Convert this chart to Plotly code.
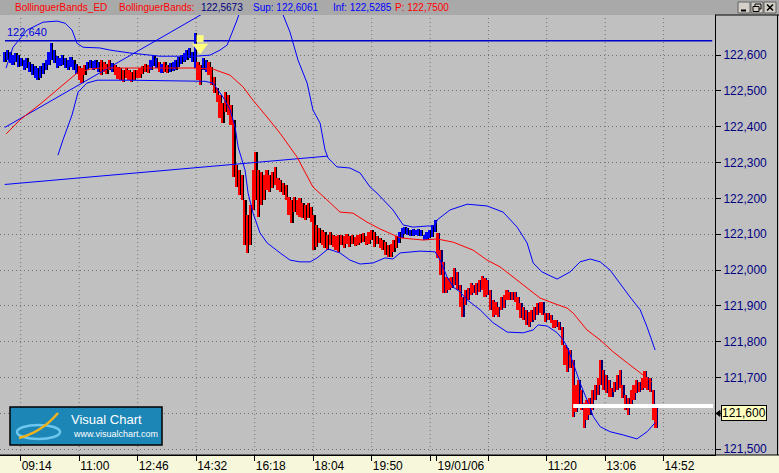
import plotly.graph_objects as go

# ---------------- data ----------------
# 5-minute bars (index = bar number); high / low prices
bar_high = [
    122.608, 122.614, 122.608, 122.600, 122.606, 122.600, 122.592, 122.586, 122.592, 122.580,
    122.575, 122.569, 122.564, 122.569, 122.578, 122.586, 122.608, 122.633, 122.614, 122.597,
    122.592, 122.600, 122.592, 122.586, 122.594, 122.586, 122.575, 122.569, 122.564, 122.572,
    122.580, 122.586, 122.583, 122.586, 122.580, 122.586, 122.580, 122.575, 122.586, 122.578,
    122.572, 122.567, 122.564, 122.558, 122.564, 122.558, 122.553, 122.558, 122.558, 122.564,
    122.569, 122.575, 122.572, 122.586, 122.597, 122.592, 122.580, 122.575, 122.580, 122.572,
    122.578, 122.580, 122.586, 122.594, 122.600, 122.606, 122.614, 122.620, 122.608, 122.661,
    122.580, 122.572, 122.592, 122.586, 122.580, 122.567, 122.539, 122.508, 122.488, 122.466,
    122.497, 122.488, 122.461, 122.419, 122.293, 122.279, 122.265, 122.196, 122.154, 122.182,
    122.279, 122.329, 122.279, 122.274, 122.265, 122.279, 122.265, 122.274, 122.288, 122.257,
    122.251, 122.243, 122.237, 122.204, 122.196, 122.204, 122.196, 122.201, 122.187, 122.182,
    122.187, 122.176, 122.154, 122.126, 122.117, 122.112, 122.106, 122.098, 122.106, 122.098,
    122.095, 122.098, 122.098, 122.095, 122.101, 122.095, 122.098, 122.092, 122.098, 122.101,
    122.104, 122.095, 122.106, 122.112, 122.106, 122.095, 122.090, 122.084, 122.078, 122.070,
    122.073, 122.084, 122.095, 122.106, 122.117, 122.120, 122.117, 122.112, 122.115, 122.112,
    122.115, 122.112, 122.098, 122.106, 122.112, 122.126, 122.140, 122.104, 122.056, 122.023,
    121.981, 121.978, 121.981, 122.006, 121.995, 121.959, 121.925, 121.945, 121.950, 121.964,
    121.959, 121.964, 121.972, 121.984, 121.978, 121.972, 121.945, 121.917, 121.911, 121.897,
    121.925, 121.931, 121.945, 121.939, 121.939, 121.939, 121.925, 121.908, 121.897, 121.889,
    121.883, 121.889, 121.897, 121.908, 121.911, 121.911, 121.880, 121.880, 121.875, 121.861,
    121.861, 121.855, 121.841, 121.791, 121.783, 121.777, 121.749, 121.680, 121.693, 121.666,
    121.629, 121.638, 121.643, 121.666, 121.680, 121.699, 121.749, 121.721, 121.708, 121.693,
    121.671, 121.688, 121.708, 121.721, 121.680, 121.652, 121.643, 121.666, 121.680, 121.693,
    121.688, 121.699, 121.719, 121.702, 121.699, 121.666, 121.624,
]
bar_low = [
    122.580, 122.586, 122.578, 122.572, 122.580, 122.567, 122.569, 122.558, 122.564, 122.553,
    122.544, 122.536, 122.530, 122.536, 122.547, 122.558, 122.572, 122.586, 122.578, 122.564,
    122.569, 122.572, 122.564, 122.558, 122.567, 122.558, 122.547, 122.530, 122.522, 122.544,
    122.558, 122.564, 122.558, 122.564, 122.553, 122.544, 122.553, 122.547, 122.558, 122.553,
    122.544, 122.533, 122.530, 122.525, 122.536, 122.530, 122.525, 122.530, 122.536, 122.536,
    122.547, 122.553, 122.550, 122.558, 122.569, 122.564, 122.553, 122.550, 122.553, 122.550,
    122.553, 122.555, 122.558, 122.567, 122.575, 122.580, 122.586, 122.592, 122.580, 122.564,
    122.530, 122.516, 122.558, 122.553, 122.544, 122.516, 122.494, 122.469, 122.424, 122.410,
    122.441, 122.433, 122.405, 122.260, 122.232, 122.210, 122.196, 122.070, 122.048, 122.070,
    122.168, 122.196, 122.148, 122.182, 122.196, 122.223, 122.218, 122.229, 122.237, 122.223,
    122.218, 122.210, 122.196, 122.154, 122.131, 122.162, 122.154, 122.148, 122.145, 122.140,
    122.145, 122.134, 122.056, 122.064, 122.076, 122.070, 122.062, 122.056, 122.070, 122.064,
    122.056, 122.051, 122.070, 122.062, 122.073, 122.064, 122.073, 122.067, 122.070, 122.076,
    122.078, 122.070, 122.073, 122.084, 122.064, 122.073, 122.062, 122.056, 122.042, 122.037,
    122.037, 122.051, 122.062, 122.076, 122.090, 122.101, 122.098, 122.095, 122.095, 122.098,
    122.095, 122.095, 122.084, 122.084, 122.090, 122.092, 122.106, 122.034, 121.986, 121.936,
    121.936, 121.945, 121.950, 121.959, 121.945, 121.897, 121.869, 121.903, 121.917, 121.931,
    121.936, 121.931, 121.939, 121.945, 121.925, 121.931, 121.889, 121.869, 121.875, 121.869,
    121.889, 121.894, 121.917, 121.917, 121.917, 121.911, 121.889, 121.866, 121.861, 121.847,
    121.841, 121.855, 121.861, 121.875, 121.880, 121.875, 121.855, 121.861, 121.853, 121.839,
    121.841, 121.833, 121.791, 121.735, 121.716, 121.727, 121.591, 121.604, 121.624, 121.610,
    121.560, 121.582, 121.596, 121.610, 121.638, 121.652, 121.680, 121.666, 121.657, 121.646,
    121.646, 121.660, 121.666, 121.671, 121.643, 121.610, 121.596, 121.624, 121.638, 121.657,
    121.660, 121.666, 121.671, 121.666, 121.660, 121.582, 121.560,
]
# bar colour runs: B = blue (above average), R = red
color_runs = [("B", 27), ("R", 3), ("B", 5), ("R", 4), ("B", 1), ("R", 13), ("B", 3),
              ("R", 1), ("B", 1), ("R", 2), ("B", 10), ("R", 2), ("B", 2), ("R", 69),
              ("B", 14), ("R", 80)]
day2_first_bar = 157

# Bollinger bands (bar index, price)
upper_x = [0.5, 3.0, 8.1, 13.9, 19.0, 21.9, 24.4, 26.2, 28.4, 34.5, 38.2, 45.4, 56.3, 69.0, 74.4,
           78.0, 80.6, 82.4, 84.2, 86.0, 93.3, 100.9, 103.4, 106.3, 109.6, 111.7, 114.3, 116.1,
           117.2, 120.4, 125.1, 128.8, 132.4, 134.9, 137.1, 140.7, 144.4, 148.0, 153.1, 156.0,
           156.7, 161.4, 167.6, 174.8, 180.6, 185.7, 189.3, 191.5, 194.7, 200.2, 204.9, 208.5,
           212.2, 215.8, 219.4, 222.0, 226.6, 230.3, 232.8, 235.7]
upper_y = [122.564, 122.622, 122.670, 122.692, 122.695, 122.689, 122.670, 122.633, 122.622,
           122.620, 122.614, 122.606, 122.597, 122.597, 122.600, 122.614, 122.628, 122.661,
           122.698, 122.739, 122.809, 122.712, 122.664, 122.586, 122.522, 122.447, 122.410,
           122.335, 122.313, 122.288, 122.285, 122.271, 122.232, 122.215, 122.196, 122.168,
           122.126, 122.120, 122.123, 122.123, 122.140, 122.168, 122.184, 122.179, 122.162,
           122.120, 122.076, 122.020, 121.995, 121.975, 121.995, 122.023, 122.031, 122.023,
           122.000, 121.972, 121.925, 121.889, 121.841, 121.777]
lower_x = [19.3, 21.1, 24.4, 26.6, 29.8, 33.5, 45.4, 69.0, 72.6, 75.5, 79.1, 81.7, 83.5, 84.6,
           86.0, 87.1, 88.2, 90.0, 92.5, 95.1, 99.8, 103.4, 107.0, 110.7, 113.2, 117.2, 121.5,
           125.1, 128.8, 133.5, 137.8, 140.7, 143.3, 146.9, 150.5, 156.0, 157.8, 160.3, 162.5,
           165.0, 167.6, 172.3, 177.0, 182.1, 187.9, 191.5, 193.3, 196.6, 200.2, 202.4, 203.8,
           206.0, 208.5, 211.0, 213.3, 215.8, 219.4, 224.1, 229.1, 232.8, 235.7]
lower_y = [122.321, 122.363, 122.433, 122.497, 122.522, 122.530, 122.530, 122.527, 122.527,
           122.522, 122.483, 122.447, 122.399, 122.343, 122.307, 122.279, 122.215, 122.159,
           122.104, 122.076, 122.048, 122.028, 122.023, 122.023, 122.034, 122.059, 122.048,
           122.028, 122.017, 122.020, 122.034, 122.031, 122.048, 122.051, 122.053, 122.051,
           122.028, 121.981, 121.953, 121.939, 121.917, 121.889, 121.853, 121.827, 121.825,
           121.833, 121.847, 121.844, 121.825, 121.805, 121.786, 121.741, 121.685, 121.638,
           121.591, 121.563, 121.549, 121.540, 121.529, 121.549, 121.574]
mid_x = [0.5, 5.5, 12.8, 20.0, 26.2, 30.9, 34.5, 52.7, 68.2, 75.5, 81.7, 86.4, 90.0, 95.1, 99.8,
         105.9, 111.7, 116.8, 121.5, 126.2, 131.3, 136.0, 143.3, 151.6, 156.7, 162.5, 169.7,
         174.8, 179.5, 184.2, 189.3, 194.0, 198.7, 203.8, 206.0, 211.0, 215.8, 220.5, 225.6,
         230.3, 234.6]
mid_y = [122.380, 122.419, 122.463, 122.511, 122.550, 122.561, 122.564, 122.564, 122.564,
         122.561, 122.544, 122.511, 122.474, 122.427, 122.382, 122.316, 122.232, 122.196,
         122.162, 122.159, 122.134, 122.115, 122.090, 122.084, 122.087, 122.078, 122.056,
         122.028, 122.009, 121.981, 121.950, 121.922, 121.908, 121.894, 121.880, 121.833,
         121.805, 121.772, 121.741, 121.713, 121.688]

# drawn trend lines / levels
trend1_x = [0.0, 80.0]
trend1_y = [122.398, 122.752]
trend2_x = [0.0, 116.8]
trend2_y = [122.239, 122.318]
level_x = [0.1, 256.4]
level_y = [122.640, 122.640]
level_label = "122,640"
lastline_x = [206.0, 256.7]
lastline_y = [121.621, 121.621]
last_price = 121.600
last_label = "121,600"
signal_x = [70.8]
signal_head = [122.622]
signal_stem = [122.646]

# axes
tick_pos = [5.8, 27.0, 48.2, 69.4, 90.6, 111.8, 133.0, 154.2, 156.5, 175.3, 196.4, 217.6, 238.7]
tick_labels = ["09:14", "11:00", "12:46", "14:32", "16:18", "18:04", "19:50", "", "19/01/06",
               "", "11:20", "13:06", "14:52"]
grid_skip_label = "19/01/06"
price_ticks = [121.5, 121.6, 121.7, 121.8, 121.9, 122.0, 122.1, 122.2, 122.3, 122.4, 122.5, 122.6]
price_labels = ["121,500", "121,600", "121,700", "121,800", "121,900", "122,000", "122,100",
                "122,200", "122,300", "122,400", "122,500", "122,600"]

header = [("BollinguerBands_ED", "#ff0000", 13), ("BollinguerBands:", "#ff0000", 117),
          ("122,5673", "#000080", 199), ("Sup: 122,6061", "#0000ff", 251),
          ("Inf: 122,5285", "#0000ff", 331), ("P: 122,7500", "#ff0000", 393)]

# ---------------- layout helpers (pixels -> paper) ----------------
W, H = 779, 473
ML, MR, MT, MB = 0, 64, 15, 18
PW, PH = W - ML - MR, H - MT - MB
FONT = "Liberation Sans, Arial, sans-serif"


def px(x):
    return (x - ML) / PW


def py(y):
    return (H - MB - y) / PH


colors = []
for c, n in color_runs:
    colors += [c] * n
idx = list(range(len(bar_high)))
body_col = ["#0000ff" if c == "B" else "#ff0000" for c in colors]
shadow_col = ["#000000" if i < day2_first_bar else "#000070" for i in idx]
rng = [h - l for h, l in zip(bar_high, bar_low)]

fig = go.Figure()
fig.add_trace(go.Bar(x=idx, y=rng, base=bar_low, width=0.72, offset=-0.06,
                     marker=dict(color=shadow_col, line=dict(width=0)), hoverinfo="skip"))
fig.add_trace(go.Bar(x=idx, y=rng, base=bar_low, width=0.6, offset=-0.36,
                     marker=dict(color=body_col, line=dict(width=0)), hoverinfo="skip"))

line_kw = dict(mode="lines", hoverinfo="skip")
fig.add_trace(go.Scatter(x=trend1_x, y=trend1_y, line=dict(color="#0000ff", width=1), **line_kw))
fig.add_trace(go.Scatter(x=trend2_x, y=trend2_y, line=dict(color="#0000ff", width=1), **line_kw))
fig.add_trace(go.Scatter(x=level_x, y=level_y, line=dict(color="#0000c8", width=1.6), **line_kw))
fig.add_trace(go.Scatter(x=upper_x, y=upper_y, line=dict(color="#0000ff", width=1), **line_kw))
fig.add_trace(go.Scatter(x=lower_x, y=lower_y, line=dict(color="#0000ff", width=1), **line_kw))
fig.add_trace(go.Scatter(x=mid_x, y=mid_y, line=dict(color="#ff0000", width=1), **line_kw))
fig.add_trace(go.Scatter(x=lastline_x, y=lastline_y, line=dict(color="#ffffff", width=4), **line_kw))
# signal arrow
fig.add_trace(go.Scatter(x=signal_x, y=signal_stem, mode="markers", hoverinfo="skip",
                         marker=dict(symbol="square", size=7, color="#ffff80", line=dict(width=0))))
fig.add_trace(go.Scatter(x=signal_x, y=signal_head, mode="markers", hoverinfo="skip",
                         marker=dict(symbol="triangle-down", size=14, color="#ffff80",
                                     line=dict(width=0))))

shapes = []
# vertical dotted grid at time ticks (not at the date tick)
for p, lab in zip(tick_pos, tick_labels):
    if lab == grid_skip_label:
        continue
    shapes.append(dict(type="line", xref="x", yref="paper", x0=p, x1=p, y0=0, y1=1,
                       line=dict(color="#707070", width=1, dash="1px,3px"), layer="below"))
# title bar and bottom axis panel
shapes.append(dict(type="rect", xref="paper", yref="paper", x0=px(0), x1=px(W), y0=py(MT), y1=py(0),
                   fillcolor="#a9a9a9", line=dict(width=0), layer="below"))
shapes.append(dict(type="rect", xref="paper", yref="paper", x0=px(0), x1=px(W), y0=py(H), y1=py(H - MB),
                   fillcolor="#f7f7dc", line=dict(width=0), layer="below"))
# panel borders
shapes.append(dict(type="line", xref="paper", yref="paper", x0=px(0), x1=px(W), y0=0, y1=0,
                   line=dict(color="black", width=1)))
shapes.append(dict(type="line", xref="paper", yref="paper", x0=1, x1=px(W), y0=1, y1=1,
                   line=dict(color="black", width=1)))
shapes.append(dict(type="line", xref="paper", yref="paper", x0=px(W - 1.5), x1=px(W - 1.5), y0=0, y1=1,
                   line=dict(color="black", width=1)))
# window buttons
for bx0, bx1 in [(738, 750), (751, 763), (764, 776)]:
    shapes.append(dict(type="rect", xref="paper", yref="paper", x0=px(bx0), x1=px(bx1),
                       y0=py(13), y1=py(2), fillcolor="#d4d0c8", line=dict(color="#606060", width=1)))
shapes.append(dict(type="line", xref="paper", yref="paper", x0=px(741), x1=px(746), y0=py(10.5), y1=py(10.5),
                   line=dict(color="black", width=2)))
shapes.append(dict(type="rect", xref="paper", yref="paper", x0=px(755), x1=px(761), y0=py(9), y1=py(4),
                   line=dict(color="black", width=1)))
shapes.append(dict(type="rect", xref="paper", yref="paper", x0=px(753), x1=px(759), y0=py(11.5), y1=py(6.5),
                   fillcolor="#d4d0c8", line=dict(color="black", width=1)))
shapes.append(dict(type="line", xref="paper", yref="paper", x0=px(767), x1=px(773), y0=py(4.5), y1=py(10.5),
                   line=dict(color="black", width=1.6)))
shapes.append(dict(type="line", xref="paper", yref="paper", x0=px(767), x1=px(773), y0=py(10.5), y1=py(4.5),
                   line=dict(color="black", width=1.6)))
# logo
shapes.append(dict(type="rect", xref="paper", yref="paper", x0=px(10), x1=px(162), y0=py(445), y1=py(407),
                   fillcolor="#1c86b6", line=dict(color="black", width=1.5), layer="above"))
shapes.append(dict(type="circle", xref="paper", yref="paper", x0=px(17), x1=px(60), y0=py(439), y1=py(425),
                   line=dict(color="#6cc6ee", width=2.5), layer="above"))
shapes.append(dict(type="path", xref="paper", yref="paper",
                   path=f"M {px(19)},{py(438)} Q {px(42)},{py(432)} {px(58)},{py(413)}",
                   line=dict(color="#f2b21c", width=2.5), layer="above"))
# last-price arrow on scale
shapes.append(dict(type="path", xref="paper", yref="y",
                   path=f"M {px(716)},{last_price} L {px(720)},{last_price + 0.008} "
                        f"L {px(720)},{last_price - 0.008} Z",
                   fillcolor="black", line=dict(color="black", width=1)))

annotations = []
for text, col, x0 in header:
    annotations.append(dict(xref="paper", yref="paper", x=px(x0), y=py(7.5), text=text,
                            showarrow=False, xanchor="left", yanchor="middle",
                            font=dict(family=FONT, size=10, color=col)))
annotations.append(dict(xref="x", yref="y", x=level_x[0], y=level_y[0], text=level_label,
                        showarrow=False, xanchor="left", yanchor="bottom", yshift=1,
                        font=dict(family=FONT, size=11, color="#0000dd")))
annotations.append(dict(xref="paper", yref="y", x=px(721), y=last_price, text=last_label,
                        showarrow=False, xanchor="left", yanchor="middle", bgcolor="#ffffc0",
                        bordercolor="black", borderwidth=1, borderpad=0,
                        font=dict(family=FONT, size=12, color="black")))
annotations.append(dict(xref="paper", yref="paper", x=px(69), y=py(419), text="Visual Chart",
                        showarrow=False, xanchor="left", yanchor="middle",
                        font=dict(family=FONT, size=13, color="white")))
annotations.append(dict(xref="paper", yref="paper", x=px(71), y=py(433.5), text="www.visualchart.com",
                        showarrow=False, xanchor="left", yanchor="middle",
                        font=dict(family=FONT, size=9, color="white")))

fig.update_layout(
    width=W, height=H, autosize=False,
    margin=dict(l=ML, r=MR, t=MT, b=MB, pad=0),
    paper_bgcolor="#c0c0c0", plot_bgcolor="#c0c0c0",
    barmode="overlay", bargap=0, showlegend=False,
    shapes=shapes, annotations=annotations,
    xaxis=dict(range=[-1.7, 257.4], tickmode="array", tickvals=tick_pos, ticktext=tick_labels,
               ticks="outside", ticklen=5, tickcolor="black", showgrid=False, zeroline=False,
               showline=True, linecolor="black", linewidth=1, ticklabelposition="outside right",
               tickfont=dict(family=FONT, size=12, color="black"), fixedrange=True),
    yaxis=dict(side="right", range=[121.484, 122.712], tickmode="array", tickvals=price_ticks,
               ticktext=price_labels, ticks="outside", ticklen=5, tickcolor="black",
               showgrid=True, gridcolor="#707070", griddash="1px,3px", gridwidth=1,
               zeroline=False, showline=True, linecolor="black", linewidth=1,
               tickfont=dict(family=FONT, size=12, color="#000080"), fixedrange=True),
)

fig.write_html("out.html", config={"displayModeBar": False},
               post_script="document.body.style.margin='0px';document.body.style.overflow='hidden';")
